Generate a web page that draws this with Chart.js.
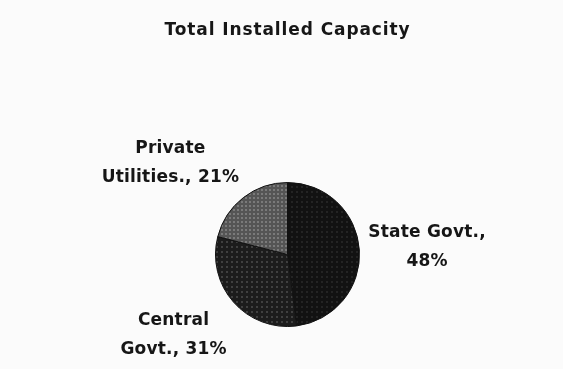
<!DOCTYPE html>
<html lang="en">
<head>
    <meta charset="UTF-8">
    <title>Total Installed Capacity</title>
    <script src="https://cdn.jsdelivr.net/npm/chart.js@4.4.1/dist/chart.umd.min.js"></script>
    <style>
        html, body { margin: 0; padding: 0; background: #fbfbfb; }
        #box { width: 563px; height: 369px; }
    </style>
</head>
<body>
    <div id="box"><canvas id="grafico"></canvas></div>

<script>
    // dados do grafico
    const titulo = 'Total Installed Capacity';
    const categorias = ['State Govt.', 'Central Govt.', 'Private Utilities.'];
    const valores = [48, 31, 21];
    // linhas de texto de cada rotulo (como aparecem na imagem)
    const rotulos = [
        ['State Govt.,', '48%'],
        ['Central', 'Govt., 31%'],
        ['Private', 'Utilities., 21%']
    ];

    // cria uma textura pontilhada para cada fatia
    function textura(fundo, ponto, passo) {
        const c = document.createElement('canvas');
        c.width = passo; c.height = passo;
        const g = c.getContext('2d');
        g.fillStyle = fundo;
        g.fillRect(0, 0, passo, passo);
        g.fillStyle = ponto;
        g.fillRect(1, 1, 2, 2);
        return g.createPattern(c, 'repeat');
    }

    const ctx = document.getElementById('grafico').getContext('2d');
    const cores = [
        textura('#121212', '#242424', 5),
        textura('#1c1c1c', '#404040', 5),
        textura('#555555', '#7a7a7a', 4)
    ];

    // desenha titulo e rotulos fora das fatias
    const pluginRotulos = {
        id: 'rotulos',
        afterDatasetsDraw(chart) {
            const c = chart.ctx;
            const area = chart.chartArea;
            c.save();
            c.fillStyle = '#161616';
            c.textAlign = 'center';
            c.textBaseline = 'middle';

            c.font = 'bold 17px "DejaVu Sans"';
            c.letterSpacing = '0.9px';
            c.fillText(titulo, (area.left + area.right) / 2, 31);

            c.letterSpacing = '0.2px';
            const alturaLinha = 29;
            chart.getDatasetMeta(0).data.forEach(function (arco, i) {
                const meio = (arco.startAngle + arco.endAngle) / 2;
                const dx = Math.cos(meio), dy = Math.sin(meio);
                const r = arco.outerRadius + 9;
                const ax = arco.x + dx * r;
                const ay = arco.y + dy * r;
                const linhas = rotulos[i];
                let w = 0;
                linhas.forEach(function (l) { w = Math.max(w, c.measureText(l).width); });
                const h = alturaLinha * linhas.length - 4;
                const sx = Math.max(-1, Math.min(1, dx * 1.6));
                const sy = Math.max(-1, Math.min(1, dy * 1.6));
                const cx = ax + sx * w / 2;
                const cy = ay + sy * h / 2;
                linhas.forEach(function (l, k) {
                    c.fillText(l, cx, cy + (k - (linhas.length - 1) / 2) * alturaLinha);
                });
            });
            c.restore();
        }
    };

    new Chart(ctx, {
        type: 'pie',
        data: {
            labels: categorias,
            datasets: [{
                data: valores,
                backgroundColor: cores,
                borderColor: '#111111',
                borderWidth: 1
            }]
        },
        options: {
            responsive: true,
            maintainAspectRatio: false,
            animation: false,
            layout: { padding: { top: 182, bottom: 42, left: 112, right: 100 } },
            plugins: {
                legend: { display: false },
                title: { display: false },
                tooltip: { enabled: false }
            }
        },
        plugins: [pluginRotulos]
    });
</script>
</body>
</html>
